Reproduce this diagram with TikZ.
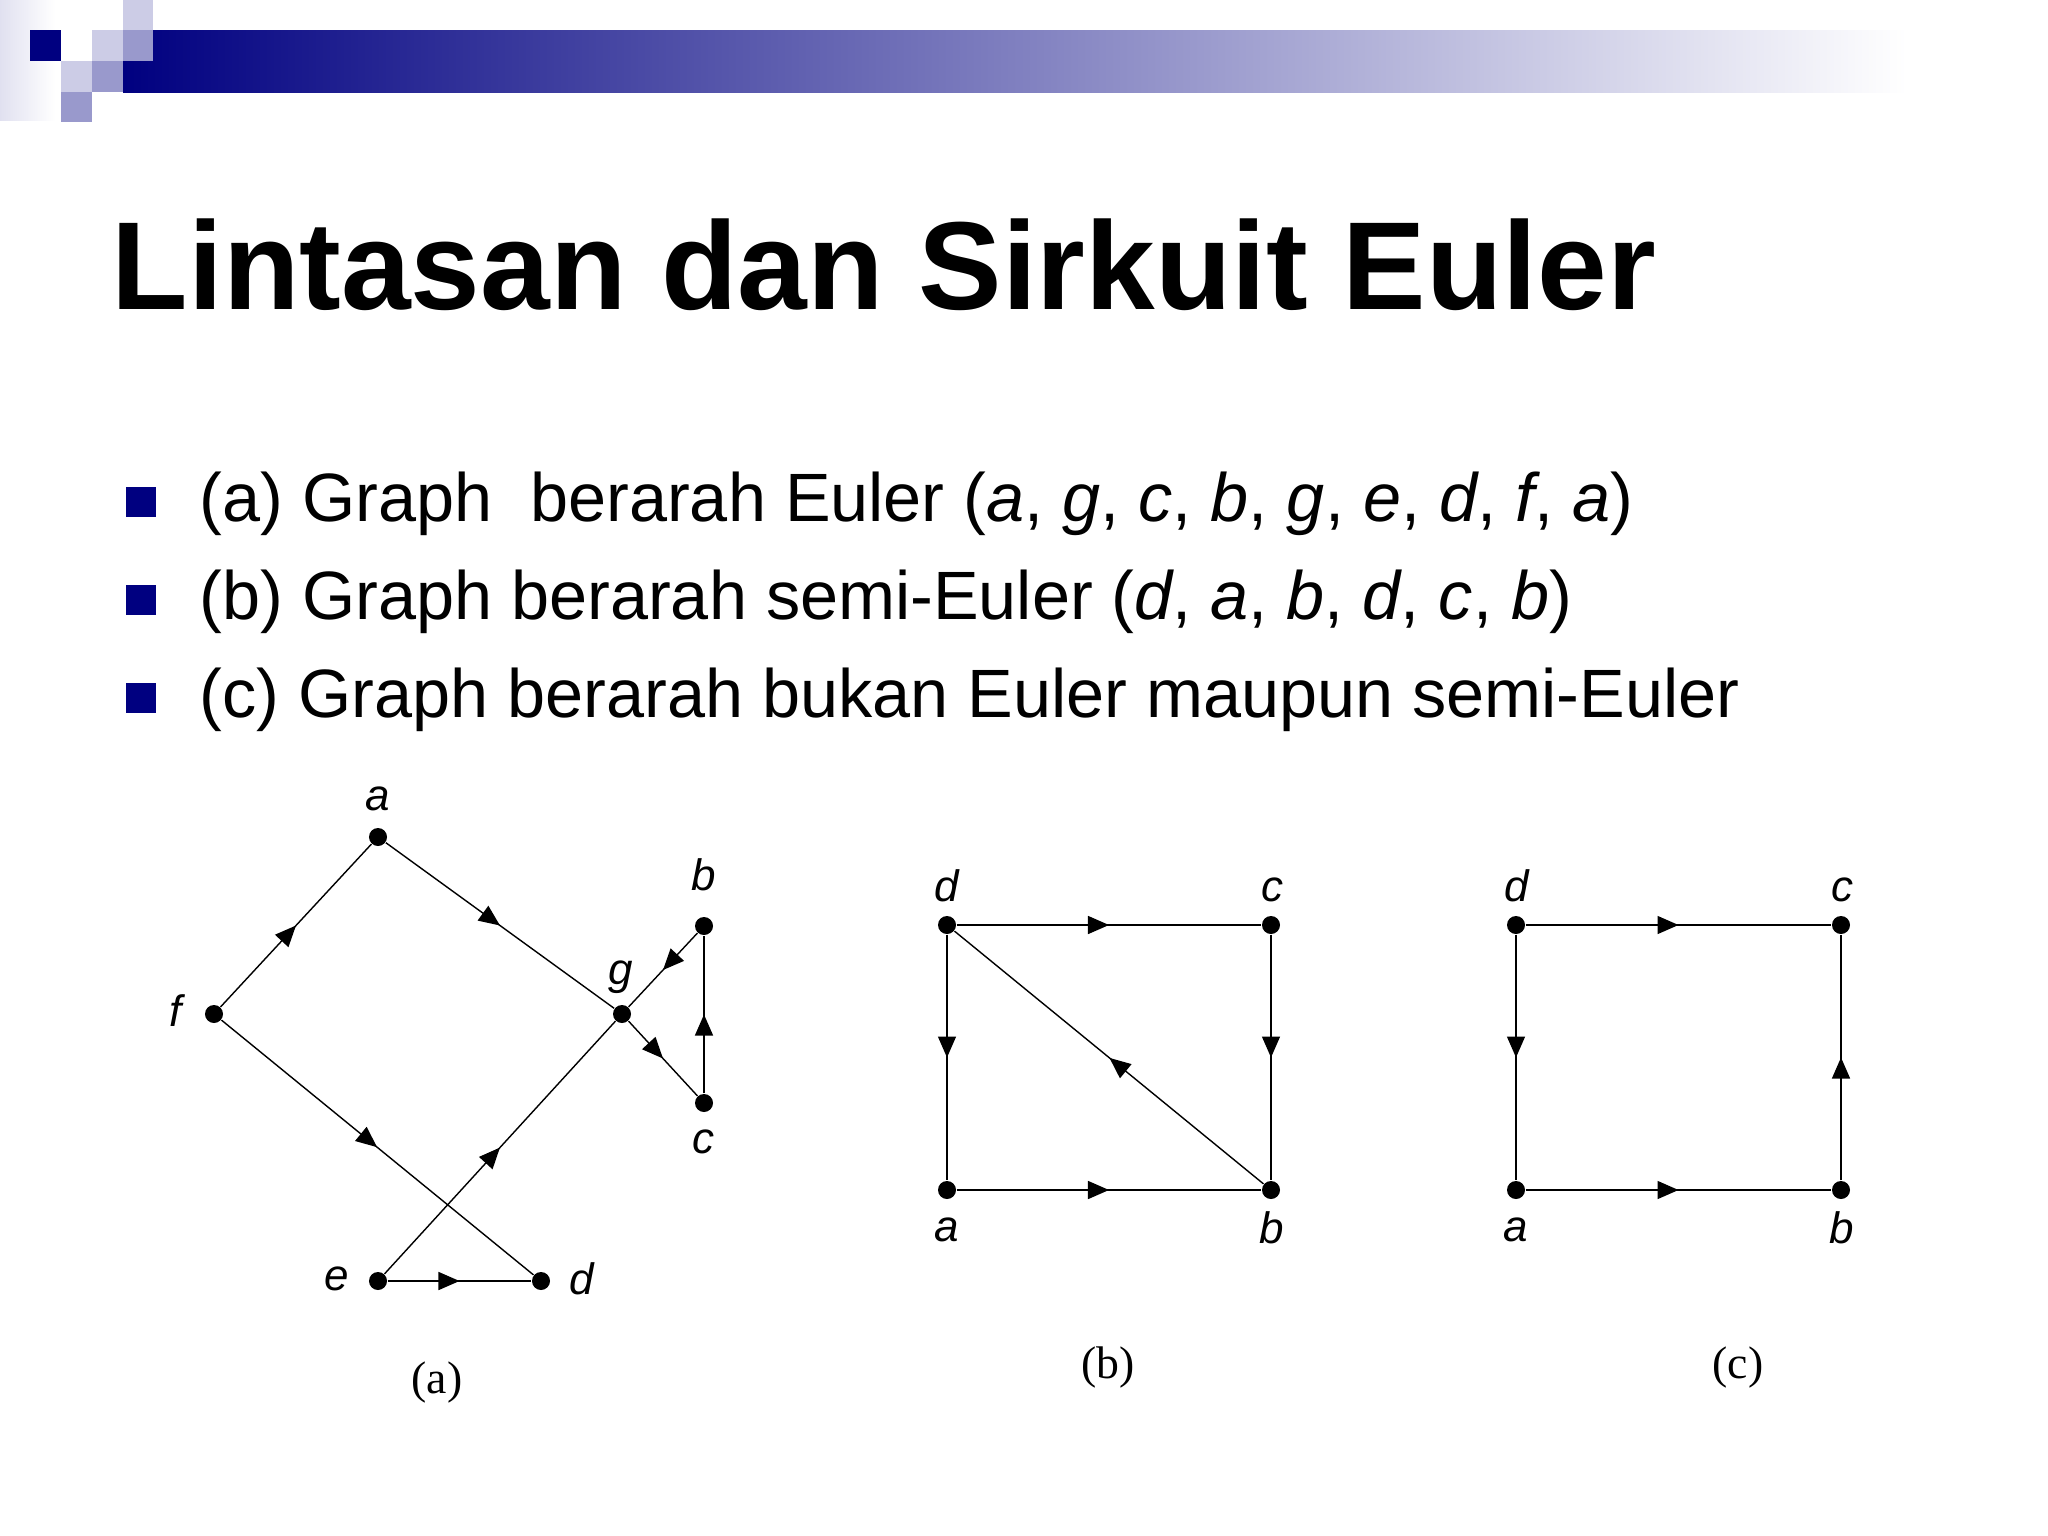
\documentclass[tikz,border=0pt]{standalone}
\usepackage{fontspec}
\setmainfont{Liberation Sans}
\newfontfamily\capfont{Liberation Serif}
\usetikzlibrary{arrows.meta,decorations.markings}
\definecolor{navy}{RGB}{0,0,128}
\definecolor{lightsq}{RGB}{204,204,230}
\definecolor{midsq}{RGB}{153,153,204}
\tikzset{
  vertex/.style={fill=black, circle, inner sep=0pt, minimum size=0.18cm},
  midarrow/.style={postaction={decorate},
    decoration={markings, mark=at position 0.5 with {\arrow{Triangle[length=0.21cm,width=0.18cm]}}}},
  vlabel/.style={font=\fontsize{12.5}{15}\selectfont\itshape},
  caption/.style={font=\fontsize{13}{16}\selectfont\capfont},
  bullet/.style={fill=navy, minimum size=0.3cm, inner sep=0pt},
  itemtext/.style={anchor=base west, inner sep=0pt, font=\fontsize{19.45}{23}\selectfont},
}
\begin{document}
\begin{tikzpicture}[x=0.01cm, y=-0.01cm]
  \useasboundingbox (0,0) rectangle (2048,1536);
  % header
  \shade[left color=lightsq!60, right color=white] (0,0) rectangle (55,120);
  \shade[left color=navy, right color=white] (123,30) rectangle (1907,92);
  \fill[lightsq] (123,0) rectangle (153,30);
  \fill[navy] (30,30) rectangle (61,61);
  \fill[lightsq] (92,30) rectangle (123,61);
  \fill[midsq] (123,30) rectangle (153,61);
  \fill[lightsq] (61,61) rectangle (92,92);
  \fill[midsq] (92,61) rectangle (123,92);
  \fill[midsq] (61,92) rectangle (92,122);
  % title and items
  \node (title) [anchor=base west, inner sep=0pt, font=\fontsize{35.6}{42}\selectfont\bfseries]
    at (111,309) {Lintasan dan Sirkuit Euler};
  \node (bul1) [bullet] at (141,502) {};
  \node (bul2) [bullet] at (141,600) {};
  \node (bul3) [bullet] at (141,698) {};
  \node (item1) [itemtext] at (199,521) {(a) Graph\ \ berarah Euler (\textit{a}, \textit{g}, \textit{c}, \textit{b}, \textit{g}, \textit{e}, \textit{d}, \textit{f}, \textit{a})};
  \node (item2) [itemtext] at (199,619) {(b) Graph berarah semi-Euler (\textit{d}, \textit{a}, \textit{b}, \textit{d}, \textit{c}, \textit{b})};
  \node (item3) [itemtext] at (199,717) {(c) Graph berarah bukan Euler maupun semi-Euler};

  % graph (a)
  \begin{scope}[every node/.style={vertex}]
    \node (a1) at (378,837) {};
    \node (b1) at (704,926) {};
    \node (g1) at (622,1014) {};
    \node (c1) at (704,1103) {};
    \node (f1) at (214,1014) {};
    \node (e1) at (378,1281) {};
    \node (d1) at (541,1281) {};
  \end{scope}
  \begin{scope}[every edge/.style={draw=black, midarrow}]
    \path (f1) edge (a1);
    \path (a1) edge (g1);
    \path (g1) edge (c1);
    \path (c1) edge (b1);
    \path (b1) edge (g1);
    \path (e1) edge (g1);
    \path (e1) edge (d1);
    \path (f1) edge (d1);
  \end{scope}
  \begin{scope}[every node/.style={vlabel}]
    \node (la1) at (378,799) {a};
    \node (lb1) at (704,875) {b};
    \node (lg1) at (621,977) {g};
    \node (lc1) at (703,1142) {c};
    \node (lf1) at (176,1011) {f};
    \node (le1) at (337,1279) {e};
    \node (ld1) at (582,1279) {d};
  \end{scope}
  \node (capa) [caption] at (437,1382) {(a)};

  % graph (b)
  \begin{scope}[every node/.style={vertex}]
    \node (d2) at (947,925) {};
    \node (c2) at (1271,925) {};
    \node (a2) at (947,1190) {};
    \node (b2) at (1271,1190) {};
  \end{scope}
  \begin{scope}[every edge/.style={draw=black, midarrow}]
    \path (d2) edge (c2);
    \path (d2) edge (a2);
    \path (c2) edge (b2);
    \path (a2) edge (b2);
    \path (b2) edge (d2);
  \end{scope}
  \begin{scope}[every node/.style={vlabel}]
    \node (ld2) at (947,886) {d};
    \node (lc2) at (1272,890) {c};
    \node (la2) at (947,1230) {a};
    \node (lb2) at (1272,1228) {b};
  \end{scope}
  \node (capb) [caption] at (1108,1367) {(b)};

  % graph (c)
  \begin{scope}[every node/.style={vertex}]
    \node (d3) at (1516,925) {};
    \node (c3) at (1841,925) {};
    \node (a3) at (1516,1190) {};
    \node (b3) at (1841,1190) {};
  \end{scope}
  \begin{scope}[every edge/.style={draw=black, midarrow}]
    \path (d3) edge (c3);
    \path (d3) edge (a3);
    \path (a3) edge (b3);
    \path (b3) edge (c3);
  \end{scope}
  \begin{scope}[every node/.style={vlabel}]
    \node (ld3) at (1517,886) {d};
    \node (lc3) at (1842,890) {c};
    \node (la3) at (1516,1230) {a};
    \node (lb3) at (1842,1228) {b};
  \end{scope}
  \node (capc) [caption] at (1738,1367) {(c)};
\end{tikzpicture}
\end{document}
